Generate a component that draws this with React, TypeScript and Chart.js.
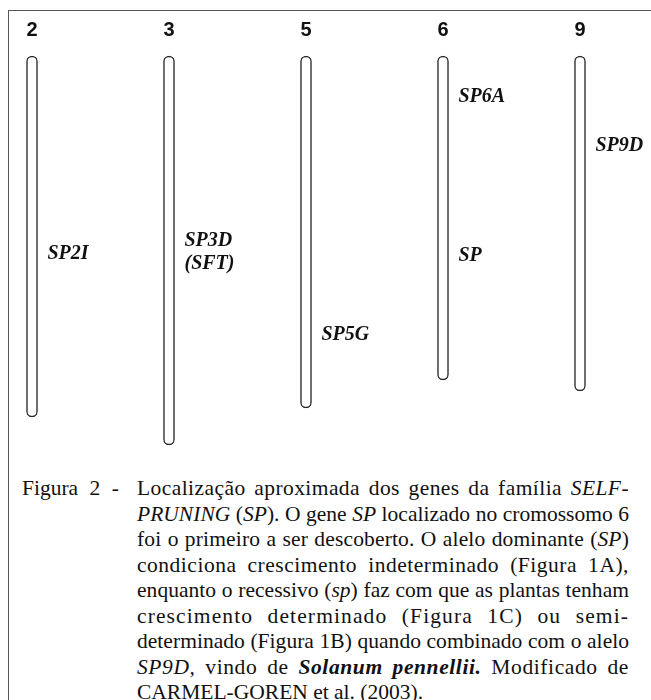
import React, { useEffect, useLayoutEffect, useRef } from "react";
import { Chart, registerables } from "chart.js";

Chart.register(...registerables);

// Chromosome numbers (tick labels) and relative lengths (arbitrary units, top = 0)
const chromosomes: string[] = ["2", "3", "5", "6", "9"];
const chromosomeLengths: number[] = [361, 389, 352, 324, 335];

// Gene labels: chromosome index and position along the chromosome (same units)
const geneNames: string[][] = [["SP2I"], ["SP3D", "(SFT)"], ["SP5G"], ["SP6A"], ["SP"], ["SP9D"]];
const geneChromosome: number[] = [0, 1, 2, 3, 3, 4];
const genePositions: number[] = [198, 196, 279, 41, 200, 90];

const captionLabel = "Figura 2 -";

const geneLabelPlugin = {
  id: "geneLabels",
  afterDatasetsDraw(chart: any) {
    const ctx = chart.ctx;
    const xs = chart.scales.x;
    const ys = chart.scales.y;
    ctx.save();
    ctx.fillStyle = "#111";
    ctx.font = "bold 20px 'Liberation Sans', Arial, sans-serif";
    ctx.textAlign = "center";
    ctx.textBaseline = "middle";
    chromosomes.forEach((c, i) => {
      ctx.fillText(c, xs.getPixelForValue(i), ys.getPixelForValue(-26));
    });
    ctx.font = "italic bold 20px 'Liberation Serif', 'Times New Roman', serif";
    ctx.textAlign = "left";
    geneNames.forEach((lines, g) => {
      const x = xs.getPixelForValue(geneChromosome[g]) + 5.5 + 10;
      const yc = ys.getPixelForValue(genePositions[g]);
      const lh = 23;
      lines.forEach((t, k) => {
        const y = yc + (k - (lines.length - 1) / 2) * lh;
        ctx.fillText(t, x, y);
      });
    });
    ctx.restore();
  },
};

const captionLines: React.ReactNode[] = [
  <>Localização aproximada dos genes da família <i>SELF-</i></>,
  <><i>PRUNING</i> (<i>SP</i>). O gene <i>SP</i> localizado no cromossomo 6</>,
  <>foi o primeiro a ser descoberto. O alelo dominante (<i>SP</i>)</>,
  <>condiciona crescimento indeterminado (Figura 1A),</>,
  <>enquanto o recessivo (<i>sp</i>) faz com que as plantas tenham</>,
  <>crescimento determinado (Figura 1C) ou semi-</>,
  <>determinado (Figura 1B) quando combinado com o alelo</>,
  <><i>SP9D,</i> vindo de <b><i>Solanum pennellii.</i></b> Modificado de</>,
  <>CARMEL-GOREN et al. (2003).</>,
];

const BLOCK_W = 492;

export default function App() {
  const canvasRef = useRef<HTMLCanvasElement | null>(null);
  const lineRefs = useRef<(HTMLDivElement | null)[]>([]);

  useLayoutEffect(() => {
    lineRefs.current.forEach((el, i) => {
      if (!el || i === captionLines.length - 1) return;
      const span = el.firstElementChild as HTMLElement;
      el.style.textAlignLast = "left";
      el.style.textAlign = "left";
      el.style.letterSpacing = "0px";
      const w = span.getBoundingClientRect().width;
      const n = (span.textContent || "").length;
      const extra = Math.max(0, BLOCK_W - w);
      el.style.letterSpacing = ((extra * 0.55) / n).toFixed(3) + "px";
      el.style.textAlign = "justify";
      el.style.textAlignLast = "justify";
    });
  }, []);

  useEffect(() => {
    if (!canvasRef.current) return;
    const chart = new Chart(canvasRef.current, {
      type: "bar",
      data: {
        datasets: [
          {
            data: chromosomeLengths.map((len, i) => ({ x: i, y: [0, len] })) as any,
            backgroundColor: "#ffffff",
            borderColor: "#2a2a2a",
            borderWidth: 1.5,
            borderRadius: 6,
            borderSkipped: false,
            barThickness: 11,
          },
        ],
      },
      options: {
        animation: false,
        responsive: false,
        events: [],
        layout: { padding: 0 },
        plugins: { legend: { display: false }, tooltip: { enabled: false } },
        scales: {
          x: { type: "linear", display: false, offset: false, grace: 0, min: -32 / 137, max: (651 - 32) / 137 },
          y: { type: "linear", display: false, reverse: true, min: -56, max: 414 },
        },
      },
      plugins: [geneLabelPlugin],
    });
    return () => chart.destroy();
  }, []);

  const font = "'Liberation Serif', 'Times New Roman', serif";

  return (
    <div style={{ position: "fixed", left: 0, top: 0, width: 651, height: 700, overflow: "hidden", background: "#fff" }}>
      <div
        style={{
          position: "absolute",
          left: 8,
          top: 10,
          width: 720,
          height: 760,
          border: "1.5px solid #555",
          boxSizing: "border-box",
        }}
      />
      <canvas ref={canvasRef} width={651} height={470} style={{ position: "absolute", left: 0, top: 0 }} />
      <div
        style={{
          position: "absolute",
          left: 22,
          top: 476,
          fontFamily: font,
          fontSize: 21.5,
          lineHeight: "25.5px",
          color: "#111",
          whiteSpace: "nowrap",
          wordSpacing: "6px",
        }}
      >
        {captionLabel}
      </div>
      <div
        style={{
          position: "absolute",
          left: 137,
          top: 476,
          width: BLOCK_W,
          fontFamily: font,
          fontSize: 21.5,
          lineHeight: "25.5px",
          color: "#111",
        }}
      >
        {captionLines.map((l, i) => (
          <div
            key={i}
            ref={(el) => {
              lineRefs.current[i] = el;
            }}
            style={{
              whiteSpace: "nowrap",
              textAlign: i === captionLines.length - 1 ? "left" : "justify",
              textAlignLast: i === captionLines.length - 1 ? "left" : "justify",
            }}
          >
            <span>{l}</span>
          </div>
        ))}
      </div>
    </div>
  );
}
